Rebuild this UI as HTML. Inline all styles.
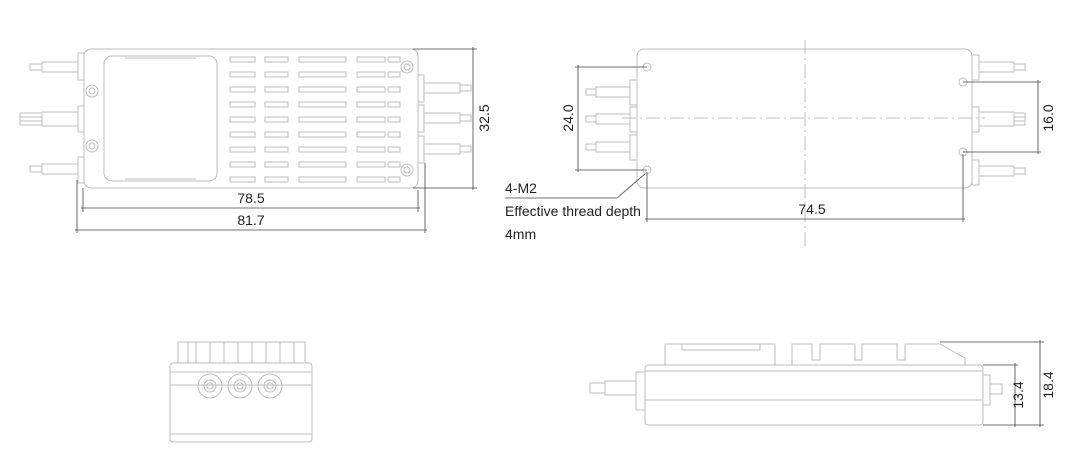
<!DOCTYPE html>
<html><head><style>html,body{margin:0;padding:0;background:#fff}svg{display:block}</style></head><body>
<svg width="1084" height="464" viewBox="0 0 1084 464" xmlns="http://www.w3.org/2000/svg" font-family="Liberation Sans, sans-serif">
<g fill="none" stroke="#bdbdbd" stroke-width="1">
<!-- top-left view -->
<rect x="84" y="49" width="334" height="139" rx="7"/>
<rect x="104" y="56" width="113" height="125" rx="8"/>
<line x1="125" y1="58" x2="196" y2="58"/><line x1="125" y1="179" x2="196" y2="179"/>
<g id="slats">
<rect x="230" y="57" width="25" height="5"/><rect x="265" y="57" width="23" height="5"/><rect x="299" y="57" width="47" height="5"/><rect x="357" y="57" width="28" height="5"/><rect x="388" y="57" width="12" height="5"/>
</g>
<use href="#slats" y="15"/><use href="#slats" y="30"/><use href="#slats" y="45"/><use href="#slats" y="60"/><use href="#slats" y="75"/><use href="#slats" y="90"/><use href="#slats" y="105"/><use href="#slats" y="120"/>
<circle cx="92" cy="91" r="6"/><circle cx="92" cy="91" r="3"/>
<circle cx="92" cy="146" r="6"/><circle cx="92" cy="146" r="3"/>
<circle cx="407" cy="67" r="6"/><circle cx="407" cy="67" r="3"/>
<circle cx="407" cy="170" r="6"/><circle cx="407" cy="170" r="3"/>
<rect x="78" y="53" width="6" height="27"/><rect x="78" y="106" width="6" height="26"/><rect x="78" y="157" width="6" height="26"/>
<rect x="42" y="62" width="36" height="10"/><rect x="30" y="64" width="12" height="6"/>
<rect x="42" y="112" width="36" height="14"/><rect x="20" y="113" width="22" height="12"/><line x1="20" y1="117" x2="42" y2="117"/><line x1="20" y1="121" x2="42" y2="121"/>
<rect x="42" y="164" width="36" height="10"/><rect x="30" y="166" width="12" height="6"/>
<rect x="418" y="75" width="6" height="27"/><rect x="418" y="105" width="6" height="27"/><rect x="418" y="136" width="6" height="27"/>
<rect x="424" y="83" width="36" height="10"/><rect x="460" y="85" width="11" height="6"/>
<rect x="424" y="113" width="36" height="10"/><rect x="460" y="115" width="11" height="6"/>
<rect x="424" y="144" width="36" height="10"/><rect x="460" y="146" width="11" height="6"/>
<!-- top-right view -->
<rect x="637" y="49" width="335" height="139" rx="7"/>
<circle cx="647" cy="67" r="4"/><circle cx="647" cy="170" r="4"/><circle cx="963" cy="82" r="4"/><circle cx="963" cy="152" r="4"/>
<rect x="630" y="80" width="7" height="25"/><rect x="630" y="107" width="7" height="25"/><rect x="630" y="135" width="7" height="25"/>
<rect x="596" y="87" width="34" height="10"/><rect x="586" y="89" width="10" height="6"/>
<rect x="596" y="114" width="34" height="10"/><rect x="586" y="116" width="10" height="6"/>
<rect x="596" y="142" width="34" height="10"/><rect x="586" y="144" width="10" height="6"/>
<rect x="972" y="55" width="7" height="25"/><rect x="972" y="107" width="7" height="25"/><rect x="972" y="160" width="7" height="25"/>
<rect x="979" y="62" width="35" height="10"/><rect x="1014" y="64" width="11" height="6"/>
<rect x="979" y="112" width="35" height="14"/><rect x="1014" y="113" width="11" height="12"/><line x1="1014" y1="117" x2="1025" y2="117"/><line x1="1014" y1="121" x2="1025" y2="121"/>
<rect x="979" y="166" width="35" height="10"/><rect x="1014" y="168" width="11" height="6"/>
<line x1="805" y1="40" x2="805" y2="250" stroke-dasharray="14 4 2 4"/>
<line x1="622" y1="118" x2="985" y2="118" stroke-dasharray="14 4 2 4"/>
<!-- end view -->
<rect x="170" y="363" width="142" height="79" rx="3"/>
<line x1="170" y1="372" x2="312" y2="372"/><line x1="170" y1="385" x2="312" y2="385"/><line x1="170" y1="434" x2="312" y2="434"/>
<rect x="178" y="342" width="127" height="21"/>
<line x1="188" y1="342" x2="188" y2="363"/><line x1="196" y1="342" x2="196" y2="363"/><line x1="210" y1="342" x2="210" y2="363"/><line x1="224" y1="342" x2="224" y2="363"/><line x1="238" y1="342" x2="238" y2="363"/><line x1="252" y1="342" x2="252" y2="363"/><line x1="266" y1="342" x2="266" y2="363"/><line x1="280" y1="342" x2="280" y2="363"/><line x1="294" y1="342" x2="294" y2="363"/>
<circle cx="210" cy="386" r="12"/><circle cx="210" cy="386" r="6"/><circle cx="210" cy="386" r="3"/>
<circle cx="240" cy="386" r="12"/><circle cx="240" cy="386" r="6"/><circle cx="240" cy="386" r="3"/>
<circle cx="270" cy="386" r="12"/><circle cx="270" cy="386" r="6"/><circle cx="270" cy="386" r="3"/>
<!-- side view -->
<rect x="645" y="365" width="338" height="60" rx="3"/>
<line x1="645" y1="371" x2="983" y2="371"/><line x1="645" y1="400" x2="983" y2="400"/>
<path d="M665 365 V344 H775 V365 M682 344 V350 H760 V344 M792 365 V344 H812 V360 H820 V344 H855 V360 H862 V344 H897 V360 H905 V344 H940 L965 358 V365"/>
<rect x="636" y="372" width="9" height="38"/>
<rect x="605" y="381" width="31" height="14"/><rect x="590" y="383" width="15" height="10"/>
<rect x="983" y="375" width="7" height="30"/><rect x="990" y="384" width="12" height="10"/>
</g>
<g fill="none" stroke="#444" stroke-width="0.8">
<line x1="413" y1="49" x2="477" y2="49"/><line x1="413" y1="188" x2="477" y2="188"/><line x1="473" y1="47" x2="473" y2="190"/>
<line x1="83" y1="188" x2="83" y2="212"/><line x1="418" y1="190" x2="418" y2="212"/><line x1="81" y1="208" x2="420" y2="208"/>
<line x1="77" y1="180" x2="77" y2="233"/><line x1="425" y1="163" x2="425" y2="233"/><line x1="75" y1="230" x2="427" y2="230"/>
<line x1="575" y1="67" x2="647" y2="67"/><line x1="575" y1="170" x2="647" y2="170"/><line x1="578" y1="65" x2="578" y2="172"/>
<line x1="963" y1="82" x2="1041" y2="82"/><line x1="963" y1="152" x2="1041" y2="152"/><line x1="1038" y1="80" x2="1038" y2="154"/>
<line x1="647" y1="172" x2="647" y2="222"/><line x1="963" y1="154" x2="963" y2="222"/><line x1="645" y1="219" x2="965" y2="219"/>
<polyline points="645,174 617,198 505,198"/>
<line x1="940" y1="342" x2="1044" y2="342"/><line x1="983" y1="365" x2="1018" y2="365"/><line x1="983" y1="425" x2="1044" y2="425"/>
<line x1="1015" y1="363" x2="1015" y2="427"/><line x1="1040" y1="340" x2="1040" y2="427"/>
</g>
<g fill="#222" font-size="14">
<text x="251" y="203" text-anchor="middle">78.5</text>
<text x="251" y="225" text-anchor="middle">81.7</text>
<text transform="translate(489,118) rotate(-90)" text-anchor="middle">32.5</text>
<text transform="translate(573,118) rotate(-90)" text-anchor="middle">24.0</text>
<text transform="translate(1053,118) rotate(-90)" text-anchor="middle">16.0</text>
<text x="812" y="214" text-anchor="middle">74.5</text>
<text x="505" y="193">4-M2</text>
<text x="505" y="216">Effective thread depth</text>
<text x="505" y="239">4mm</text>
<text transform="translate(1023,395) rotate(-90)" text-anchor="middle">13.4</text>
<text transform="translate(1053,385) rotate(-90)" text-anchor="middle">18.4</text>
</g>
</svg>
</body></html>
